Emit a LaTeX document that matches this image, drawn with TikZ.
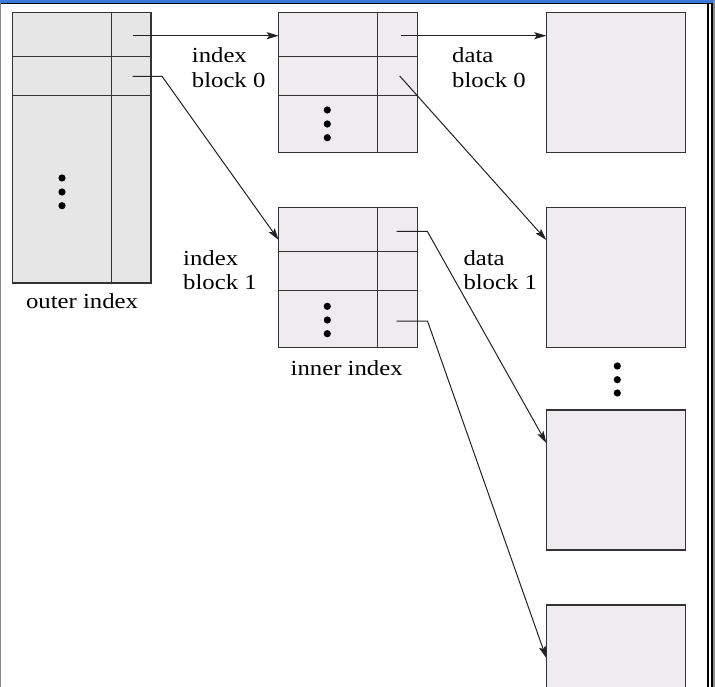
\documentclass[tikz,border=0pt]{standalone}
\usepackage{fontspec}
\setmainfont{Liberation Serif}[FakeStretch=1.15]
\usetikzlibrary{arrows.meta,calc}
\definecolor{outerfill}{HTML}{E6E6E6}
\definecolor{blkfill}{HTML}{EFEBEF}
\definecolor{edgecol}{HTML}{333333}
\definecolor{arrcol}{HTML}{222222}
\definecolor{framebl}{HTML}{3C78D8}
\definecolor{framegr}{HTML}{8A8A8A}
\begin{document}
\begin{tikzpicture}[x=1pt,y=-1pt,
  blockbox/.style={draw=edgecol,line width=1.4pt,inner sep=0pt,outer sep=0pt,anchor=north west,fill=blkfill},
  outerbox/.style={blockbox,fill=outerfill},
  cellline/.style={draw=edgecol,line width=1.4pt},
  arr/.style={draw=arrcol,line width=1pt,-{Stealth[length=12pt,width=7pt,inset=2.5pt]}},
  lbl/.style={font=\fontsize{21.5}{24.6}\selectfont,inner sep=0pt,align=left,anchor=base west},
  caption/.style={font=\fontsize{21.5}{24.6}\selectfont,inner sep=0pt,anchor=base},
  dotmark/.style={fill=black}]
\useasboundingbox (0,0) rectangle (715,687);
\clip (0,0) rectangle (715,687);
\fill[white] (0,0) rectangle (715,687);

% window frame
\fill[framebl] (0,0) rectangle (715,2.6);
\draw[black,line width=1.2pt] (0,3.3) -- (715,3.3);
\draw[framegr,line width=1.2pt] (0.6,3) -- (0.6,687);
\draw[black,line width=2pt] (708,3) -- (708,687);
\draw[black,line width=2pt] (712,3) -- (712,687);
\draw[framegr,line width=1.6pt] (714.2,0) -- (714.2,687);

% outer index
\node[outerbox,minimum width=138.3pt,minimum height=270.3pt] (outer) at (12.7,12.7) {};
\draw[cellline] (111.7,12.7) -- (111.7,283);
\draw[cellline] (12.7,56.7) -- (151,56.7);
\draw[cellline] (12.7,95.3) -- (151,95.3);
\fill[dotmark] (62,178) circle (3.6);
\fill[dotmark] (62,192) circle (3.6);
\fill[dotmark] (62,205.7) circle (3.6);
\node[caption] (outercap) at (82,308.3) {outer index};

% inner index block 0
\node[blockbox,minimum width=139pt,minimum height=140pt] (inner0) at (278.7,12.7) {};
\draw[cellline] (377.3,12.7) -- (377.3,152.7);
\draw[cellline] (278.7,56.7) -- (417.7,56.7);
\draw[cellline] (278.7,95.3) -- (417.7,95.3);
\fill[dotmark] (327.3,110) circle (3.6);
\fill[dotmark] (327.3,124) circle (3.6);
\fill[dotmark] (327.3,137.7) circle (3.6);

% inner index block 1
\node[blockbox,minimum width=139pt,minimum height=140pt] (inner1) at (278.7,207.7) {};
\draw[cellline] (377.3,207.7) -- (377.3,347.7);
\draw[cellline] (278.7,251.7) -- (417.7,251.7);
\draw[cellline] (278.7,290.3) -- (417.7,290.3);
\fill[dotmark] (327.3,306.3) circle (3.6);
\fill[dotmark] (327.3,320) circle (3.6);
\fill[dotmark] (327.3,333.7) circle (3.6);
\node[caption] (innercap) at (346.7,375) {inner index};

% data blocks
\node[blockbox,minimum width=139.4pt,minimum height=140pt] (data0) at (546.3,12.7) {};
\node[blockbox,minimum width=139.4pt,minimum height=140pt] (data1) at (546.3,207.7) {};
\node[blockbox,minimum width=139.4pt,minimum height=140pt] (data2) at (546.3,410) {};
\node[blockbox,minimum width=139.4pt,minimum height=140pt] (data3) at (546.3,605) {};
\fill[dotmark] (617.3,366) circle (3.6);
\fill[dotmark] (617.3,379.7) circle (3.6);
\fill[dotmark] (617.3,393) circle (3.6);

% labels (anchor = baseline of last line)
\node[lbl] (lib0) at (191.7,87.3) {index\\block 0};
\node[lbl] (ldb0) at (452,87.3) {data\\block 0};
\node[lbl] (lib1) at (183,290) {index\\block 1};
\node[lbl] (ldb1) at (463.3,290) {data\\block 1};

% pointer start points
\coordinate (po0) at (132.7,35.7);
\coordinate (po1) at (132.7,76.3);
\coordinate (po1b) at (162,76.3);
\coordinate (pa0) at (400.7,35.7);
\coordinate (pa1) at (399.7,76);
\coordinate (pb0) at (396.7,231.3);
\coordinate (pb0b) at (427.3,231.3);
\coordinate (pb2) at (396.7,321);
\coordinate (pb2b) at (427.5,321);

% connectors
\draw[arr] (po0) -- (po0 -| inner0.west);
\draw[arr] (po1) -- (po1b) -- ($(inner1.north west)+(0,32.3)$);
\draw[arr] (pa0) -- (pa0 -| data0.west);
\draw[arr] (pa1) -- ($(data1.north west)+(0,32.3)$);
\draw[arr] (pb0) -- (pb0b) -- ($(data2.north west)+(0,33)$);
\draw[arr] (pb2) -- (pb2b) -- ($(data3.north west)+(0,53)$);
\end{tikzpicture}
\end{document}
